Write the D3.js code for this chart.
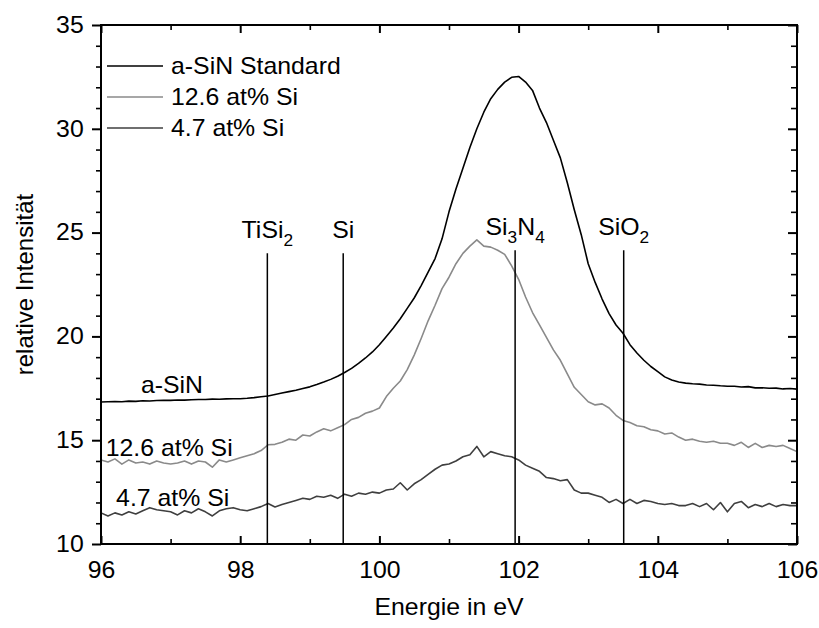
<!DOCTYPE html>
<html>
<head>
<meta charset="utf-8">
<script src="https://cdn.jsdelivr.net/npm/d3@7"></script>
<style>
  body { margin: 0; background: #fff; }
  text { font-family: "Liberation Sans", Arial, sans-serif; fill: #000; }
</style>
</head>
<body>
<script>
// Size of the page and the plot box
var width = 819;
var height = 628;
var margin = { left: 101, right: 22, top: 25, bottom: 84 };
var stretch = 1.08; // the text in the original is a bit wider than tall
var fontSize = 23;

// Energy grid of the spectra (eV)
var energy = [
  96.0, 96.1, 96.2, 96.3, 96.4, 96.5, 96.6, 96.7, 96.8, 96.9,
  97.0, 97.1, 97.2, 97.3, 97.4, 97.5, 97.6, 97.7, 97.8, 97.9,
  98.0, 98.1, 98.2, 98.3, 98.4, 98.5, 98.6, 98.7, 98.8, 98.9,
  99.0, 99.1, 99.2, 99.3, 99.4, 99.5, 99.6, 99.7, 99.8, 99.9,
  100.0, 100.1, 100.2, 100.3, 100.4, 100.5, 100.6, 100.7, 100.8, 100.9,
  101.0, 101.1, 101.2, 101.3, 101.4, 101.5, 101.6, 101.7, 101.8, 101.9,
  102.0, 102.1, 102.2, 102.3, 102.4, 102.5, 102.6, 102.7, 102.8, 102.9,
  103.0, 103.1, 103.2, 103.3, 103.4, 103.5, 103.6, 103.7, 103.8, 103.9,
  104.0, 104.1, 104.2, 104.3, 104.4, 104.5, 104.6, 104.7, 104.8, 104.9,
  105.0, 105.1, 105.2, 105.3, 105.4, 105.5, 105.6, 105.7, 105.8, 105.9,
  106.0
];

// a-SiN Standard
var standard = [
  16.84, 16.85, 16.86, 16.85, 16.88, 16.87, 16.90, 16.89, 16.91, 16.92,
  16.92, 16.94, 16.93, 16.95, 16.96, 16.96, 16.98, 16.97, 16.99, 17.00,
  17.00, 17.02, 17.05, 17.09, 17.13, 17.20, 17.27, 17.34, 17.41, 17.49,
  17.57, 17.68, 17.80, 17.93, 18.08, 18.26, 18.46, 18.70, 18.96, 19.25,
  19.60, 20.00, 20.40, 20.85, 21.35, 21.85, 22.45, 23.10, 23.75, 24.70,
  26.00, 27.10, 28.10, 29.10, 30.00, 30.80, 31.45, 31.90, 32.25, 32.48,
  32.52, 32.25, 31.85, 31.00, 30.30, 29.45, 28.60, 27.40, 26.10, 24.90,
  23.50, 22.60, 21.80, 21.10, 20.55, 20.15, 19.60, 19.20, 18.85, 18.55,
  18.30, 18.05, 17.90, 17.80, 17.75, 17.72, 17.70, 17.66, 17.65, 17.62,
  17.60, 17.60, 17.56, 17.58, 17.52, 17.53, 17.50, 17.51, 17.47, 17.49,
  17.46
];

// 12.6 at% Si
var si126 = [
  14.05, 13.95, 14.10, 13.85, 14.05, 13.90, 13.95, 13.85, 14.00, 13.90,
  13.85, 13.90, 14.00, 13.85, 14.00, 13.95, 13.70, 14.05, 13.95, 14.05,
  14.15, 14.25, 14.35, 14.50, 14.78, 14.80, 14.90, 15.05, 15.00, 15.25,
  15.20, 15.40, 15.55, 15.45, 15.60, 15.75, 16.00, 16.10, 16.30, 16.40,
  16.55, 17.10, 17.50, 17.85, 18.40, 19.10, 19.90, 20.75, 21.50, 22.30,
  22.85, 23.50, 24.00, 24.35, 24.65, 24.35, 24.30, 24.15, 23.95, 23.40,
  22.75, 21.90, 21.15, 20.55, 19.95, 19.35, 18.85, 18.20, 17.55, 17.20,
  16.85, 16.70, 16.75, 16.55, 16.20, 15.95, 15.85, 15.70, 15.65, 15.50,
  15.45, 15.30, 15.35, 15.15, 15.00, 15.05, 14.95, 14.90, 14.95, 14.85,
  14.85, 14.75, 14.90, 14.65, 14.85, 14.65, 14.75, 14.70, 14.75, 14.60,
  14.45
];

// 4.7 at% Si
var si47 = [
  11.50, 11.35, 11.50, 11.40, 11.55, 11.45, 11.60, 11.75, 11.65, 11.60,
  11.55, 11.40, 11.60, 11.50, 11.70, 11.55, 11.35, 11.60, 11.70, 11.75,
  11.65, 11.60, 11.70, 11.80, 11.95, 11.78, 11.90, 12.00, 12.10, 12.20,
  12.15, 12.30, 12.25, 12.35, 12.20, 12.40, 12.30, 12.45, 12.40, 12.50,
  12.45, 12.60, 12.65, 12.95, 12.60, 12.90, 13.10, 13.35, 13.60, 13.80,
  13.85, 14.00, 14.20, 14.30, 14.70, 14.20, 14.45, 14.35, 14.25, 14.20,
  14.05, 13.80, 13.65, 13.50, 13.20, 13.15, 13.05, 13.10, 12.60, 12.45,
  12.45, 12.35, 12.25, 12.00, 12.15, 11.95, 12.15, 11.95, 12.10, 12.05,
  11.95, 11.90, 11.95, 11.85, 11.85, 11.95, 11.80, 11.95, 11.65, 12.00,
  11.55, 11.95, 12.05, 11.75, 11.90, 11.80, 11.95, 11.80, 11.90, 11.85,
  11.85
];

var seriesNames = ['a-SiN Standard', '12.6 at% Si', '4.7 at% Si'];
var seriesColors = ['#000000', '#8a8a8a', '#3f3f3f'];
var seriesValues = [standard, si126, si47];
var curveLabels = ['a-SiN', '12.6 at% Si', '4.7 at% Si'];
var curveLabelPos = [[97.02, 17.27], [96.98, 14.24], [97.03, 11.83]];

// Reference binding energies, the digits are written as subscripts
var refNames = [['Ti', 'Si', '2'], ['Si'], ['Si', '3', 'N', '4'], ['Si', 'O', '2']];
var refEnergy = [98.39, 99.48, 101.95, 103.51];
var refTop = [24.0, 24.0, 24.15, 24.15];

var xMajor = [96, 98, 100, 102, 104, 106];
var xMinor = [97, 99, 101, 103, 105];
var yMajor = [10, 15, 20, 25, 30, 35];
var yMinor = [11, 12, 13, 14, 16, 17, 18, 19, 21, 22, 23, 24, 26, 27, 28, 29, 31, 32, 33, 34];

var plotW = width - margin.left - margin.right;
var plotH = height - margin.top - margin.bottom;

var x = d3.scaleLinear().domain([96, 106]).range([0, plotW]);
var y = d3.scaleLinear().domain([10, 35]).range([plotH, 0]);

var svg = d3.select('body').append('svg')
  .attr('width', width)
  .attr('height', height);

var g = svg.append('g')
  .attr('transform', 'translate(' + margin.left + ',' + margin.top + ')');

// helper: text that is a little wider than normal, like the original
function stretchedText(parent, px, py, size, anchor) {
  return parent.append('g')
    .attr('transform', 'translate(' + px + ',' + py + ') scale(' + stretch + ',1)')
    .append('text')
    .attr('font-size', size)
    .attr('text-anchor', anchor);
}

// spectra
var line = d3.line()
  .x(function(d, i) { return x(energy[i]); })
  .y(function(d) { return y(d); });

g.selectAll('path.spectrum')
  .data(seriesValues)
  .enter()
  .append('path')
  .attr('class', 'spectrum')
  .attr('d', line)
  .attr('fill', 'none')
  .attr('stroke', function(d, i) { return seriesColors[i]; })
  .attr('stroke-width', 1.6)
  .attr('stroke-linejoin', 'round');

// reference lines
g.selectAll('line.ref')
  .data(refEnergy)
  .enter()
  .append('line')
  .attr('class', 'ref')
  .attr('x1', function(d) { return x(d); })
  .attr('x2', function(d) { return x(d); })
  .attr('y1', function(d, i) { return y(refTop[i]); })
  .attr('y2', y(10))
  .attr('stroke', '#000')
  .attr('stroke-width', 1.5);

refNames.forEach(function(parts, i) {
  var t = stretchedText(g, x(refEnergy[i]), y(refTop[i]) - 15, fontSize, 'middle');
  parts.forEach(function(p, j) {
    var isSub = /[0-9]/.test(p);
    var prevSub = j > 0 && /[0-9]/.test(parts[j - 1]);
    var span = t.append('tspan').text(p);
    if (isSub) span.attr('font-size', 16).attr('dy', 8);
    else if (prevSub) span.attr('dy', -8);
  });
});

// labels next to the curves
curveLabels.forEach(function(s, i) {
  stretchedText(g, x(curveLabelPos[i][0]), y(curveLabelPos[i][1]), fontSize, 'middle').text(s);
});

// legend
var legend = g.append('g').attr('transform', 'translate(6,41)');
seriesNames.forEach(function(s, i) {
  legend.append('line')
    .attr('x1', 0).attr('x2', 56)
    .attr('y1', i * 31).attr('y2', i * 31)
    .attr('stroke', seriesColors[i])
    .attr('stroke-width', 1.6);
  stretchedText(legend, 64, i * 31 + 8, fontSize, 'start').text(s);
});

// axes
function styleAxis(sel, w) {
  sel.select('.domain').remove();
  sel.selectAll('line').attr('stroke', '#000').attr('stroke-width', w);
  sel.selectAll('text').attr('font-size', fontSize).attr('fill', '#000')
    .attr('font-family', '"Liberation Sans", Arial, sans-serif');
}

var bottomMajor = g.append('g').attr('transform', 'translate(0,' + plotH + ')')
  .call(d3.axisBottom(x).tickValues(xMajor).tickSize(-8).tickPadding(18));
styleAxis(bottomMajor, 2);
bottomMajor.selectAll('text').attr('transform', 'scale(' + stretch + ',1)');

var bottomMinor = g.append('g').attr('transform', 'translate(0,' + plotH + ')')
  .call(d3.axisBottom(x).tickValues(xMinor).tickSize(-5).tickFormat(''));
styleAxis(bottomMinor, 1.6);

var topMajor = g.append('g')
  .call(d3.axisTop(x).tickValues(xMajor).tickSize(-8).tickFormat(''));
styleAxis(topMajor, 2);
var topMinor = g.append('g')
  .call(d3.axisTop(x).tickValues(xMinor).tickSize(-5).tickFormat(''));
styleAxis(topMinor, 1.6);

var leftMajor = g.append('g')
  .call(d3.axisLeft(y).tickValues(yMajor).tickSize(9).tickPadding(7));
styleAxis(leftMajor, 2);
leftMajor.selectAll('text').attr('transform', 'scale(' + stretch + ',1)');
var leftMinor = g.append('g')
  .call(d3.axisLeft(y).tickValues(yMinor).tickSize(5).tickFormat(''));
styleAxis(leftMinor, 1.6);

var rightMajor = g.append('g').attr('transform', 'translate(' + plotW + ',0)')
  .call(d3.axisRight(y).tickValues(yMajor).tickSize(-9).tickFormat(''));
styleAxis(rightMajor, 2);
var rightMinor = g.append('g').attr('transform', 'translate(' + plotW + ',0)')
  .call(d3.axisRight(y).tickValues(yMinor).tickSize(-6).tickFormat(''));
styleAxis(rightMinor, 1.6);

// frame
g.append('rect')
  .attr('width', plotW)
  .attr('height', plotH)
  .attr('fill', 'none')
  .attr('stroke', '#000')
  .attr('stroke-width', 2);

// axis titles
stretchedText(svg, margin.left + plotW / 2, 615, fontSize, 'middle').text('Energie in eV');

svg.append('text')
  .attr('transform', 'translate(33,' + (margin.top + plotH / 2) + ') rotate(-90)')
  .attr('font-size', 24)
  .attr('text-anchor', 'middle')
  .text('relative Intensität');
</script>
</body>
</html>
